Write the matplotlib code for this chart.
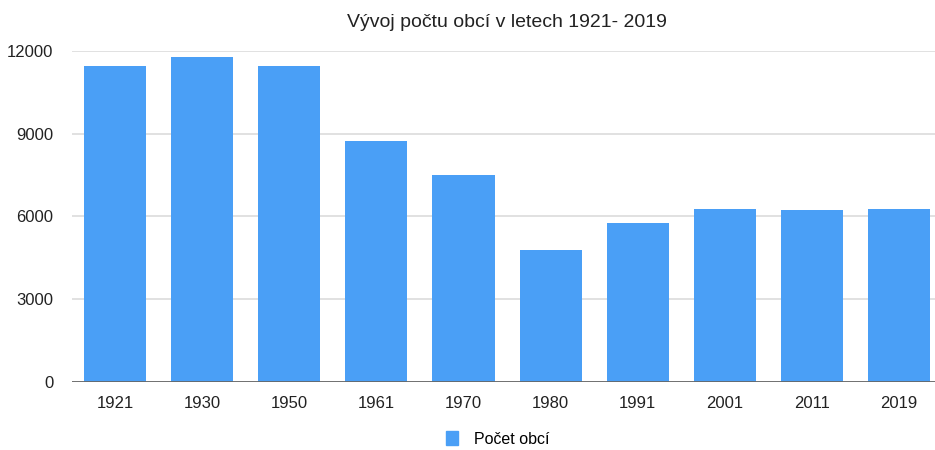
import matplotlib
matplotlib.use("Agg")
from matplotlib import pyplot as plt
from matplotlib.patches import Patch
import numpy as np

plt.rcParams['font.family'] = ['Liberation Sans', 'DejaVu Sans']

# data
roky = ['1921', '1930', '1950', '1961', '1970', '1980', '1991', '2001', '2011', '2019']
pocet_obci = [11458, 11768, 11459, 8726, 7511, 4778, 5768, 6258, 6251, 6258]
yticks = [0, 3000, 6000, 9000, 12000]

barva = '#4a9ff6'

fig = plt.figure(figsize=(9.35, 4.5), dpi=100)
ax = fig.add_axes([0.0765, 0.151, 0.9316, 0.736])

x = np.arange(len(roky))
ax.bar(x, pocet_obci, width=0.713, color=barva, edgecolor='none', zorder=2)

ax.set_xlim(-0.5, len(roky) - 0.5)
ax.set_ylim(0, 12000)
ax.set_yticks(yticks)
ax.set_yticklabels([str(v) for v in yticks], fontsize=12, color='#222222')
ax.set_xticks(x)
ax.set_xticklabels(roky, fontsize=12, color='#222222')

ax.grid(axis='y', color='#dcdcdc', linewidth=1.2, zorder=0)
ax.axhline(0, color='#666666', linewidth=2, zorder=3)
for s in ['top', 'right', 'left', 'bottom']:
    ax.spines[s].set_visible(False)
ax.tick_params(axis='both', length=0)
ax.tick_params(axis='x', pad=10)
ax.tick_params(axis='y', pad=13)

ax.set_title('Vývoj počtu obcí v letech 1921- 2019', y=1.0, pad=17, fontsize=14, color='#222222')

ax.legend(handles=[Patch(color=barva, label='Počet obcí')], loc='center',
          bbox_to_anchor=(0.489, -0.172), frameon=False, fontsize=11.5,
          handlelength=0.75, handleheight=0.9, handletextpad=1.0)

fig.savefig('out.png', dpi=100)
